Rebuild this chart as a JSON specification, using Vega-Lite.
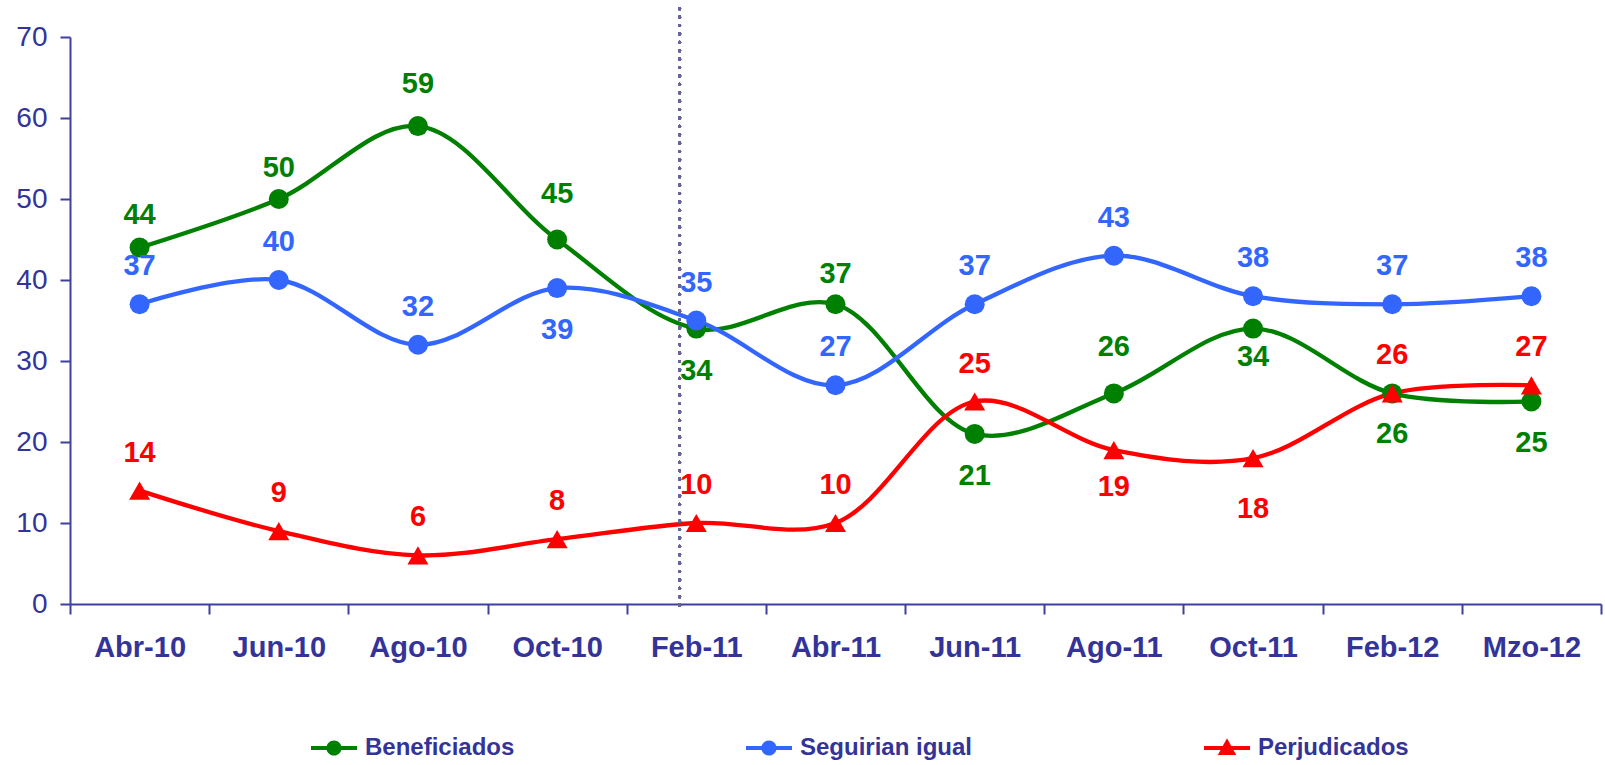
{
  "$schema": "https://vega.github.io/schema/vega-lite/v6.json",
  "width": 1531,
  "height": 567,
  "autosize": {"type": "none"},
  "padding": {"left": 70, "top": 37, "right": 4, "bottom": 161},
  "background": "white",
  "config": {
    "view": {"stroke": null},
    "font": "Liberation Sans"
  },
  "data": {
    "values": [
      {"mes": "Abr-10", "serie": "Beneficiados", "valor": 44},
      {"mes": "Jun-10", "serie": "Beneficiados", "valor": 50},
      {"mes": "Ago-10", "serie": "Beneficiados", "valor": 59},
      {"mes": "Oct-10", "serie": "Beneficiados", "valor": 45},
      {"mes": "Feb-11", "serie": "Beneficiados", "valor": 34},
      {"mes": "Abr-11", "serie": "Beneficiados", "valor": 37},
      {"mes": "Jun-11", "serie": "Beneficiados", "valor": 21},
      {"mes": "Ago-11", "serie": "Beneficiados", "valor": 26},
      {"mes": "Oct-11", "serie": "Beneficiados", "valor": 34},
      {"mes": "Feb-12", "serie": "Beneficiados", "valor": 26},
      {"mes": "Mzo-12", "serie": "Beneficiados", "valor": 25},
      {"mes": "Abr-10", "serie": "Seguirian igual", "valor": 37},
      {"mes": "Jun-10", "serie": "Seguirian igual", "valor": 40},
      {"mes": "Ago-10", "serie": "Seguirian igual", "valor": 32},
      {"mes": "Oct-10", "serie": "Seguirian igual", "valor": 39},
      {"mes": "Feb-11", "serie": "Seguirian igual", "valor": 35},
      {"mes": "Abr-11", "serie": "Seguirian igual", "valor": 27},
      {"mes": "Jun-11", "serie": "Seguirian igual", "valor": 37},
      {"mes": "Ago-11", "serie": "Seguirian igual", "valor": 43},
      {"mes": "Oct-11", "serie": "Seguirian igual", "valor": 38},
      {"mes": "Feb-12", "serie": "Seguirian igual", "valor": 37},
      {"mes": "Mzo-12", "serie": "Seguirian igual", "valor": 38},
      {"mes": "Abr-10", "serie": "Perjudicados", "valor": 14},
      {"mes": "Jun-10", "serie": "Perjudicados", "valor": 9},
      {"mes": "Ago-10", "serie": "Perjudicados", "valor": 6},
      {"mes": "Oct-10", "serie": "Perjudicados", "valor": 8},
      {"mes": "Feb-11", "serie": "Perjudicados", "valor": 10},
      {"mes": "Abr-11", "serie": "Perjudicados", "valor": 10},
      {"mes": "Jun-11", "serie": "Perjudicados", "valor": 25},
      {"mes": "Ago-11", "serie": "Perjudicados", "valor": 19},
      {"mes": "Oct-11", "serie": "Perjudicados", "valor": 18},
      {"mes": "Feb-12", "serie": "Perjudicados", "valor": 26},
      {"mes": "Mzo-12", "serie": "Perjudicados", "valor": 27}
    ]
  },
  "encoding": {
    "x": {
      "field": "mes",
      "type": "ordinal",
      "sort": null,
      "scale": {"type": "band", "paddingInner": 0, "paddingOuter": 0, "domain": ["Abr-10", "Jun-10", "Ago-10", "Oct-10", "Feb-11", "Abr-11", "Jun-11", "Ago-11", "Oct-11", "Feb-12", "Mzo-12"]},
      "axis": {
        "title": null,
        "tickBand": "extent",
        "domainColor": "#3F3F9F",
        "domainWidth": 2,
        "tickColor": "#3F3F9F",
        "tickWidth": 2,
        "tickSize": 10,
        "labelAngle": 0,
        "labelFont": "Liberation Sans",
        "labelFontSize": 29,
        "labelFontWeight": "bold",
        "labelColor": "#333399",
        "labelPadding": 19,
        "grid": false
      }
    },
    "y": {
      "field": "valor",
      "type": "quantitative",
      "scale": {"domain": [0, 70], "nice": false, "zero": true},
      "axis": {
        "title": null,
        "values": [0, 10, 20, 30, 40, 50, 60, 70],
        "domainColor": "#3F3F9F",
        "domainWidth": 2,
        "tickColor": "#3F3F9F",
        "tickWidth": 2,
        "tickSize": 10,
        "labelFont": "Liberation Sans",
        "labelFontSize": 28,
        "labelColor": "#333399",
        "labelPadding": 13,
        "grid": false
      }
    },
    "color": {
      "field": "serie",
      "type": "nominal",
      "sort": ["Beneficiados", "Seguirian igual", "Perjudicados"],
      "scale": {
        "domain": ["Beneficiados", "Seguirian igual", "Perjudicados"],
        "range": ["#008000", "#3366FF", "#FF0000"]
      },
      "legend": {
        "title": null,
        "orient": "none",
        "legendX": 241,
        "legendY": 688,
        "direction": "horizontal",
        "columns": 3,
        "columnPadding": 231,
        "padding": 0,
        "symbolSize": 2116,
        "symbolOpacity": 1,
        "symbolStrokeWidth": 0,
        "labelFont": "Liberation Sans",
        "labelFontSize": 24,
        "labelFontWeight": "bold",
        "labelColor": "#333399",
        "labelOffset": 8,
        "labelLimit": 400,
        "encode": {
          "symbols": {
            "update": {
              "shape": {"signal": "datum.value === 'Perjudicados' ? 'M-1,-0.09H1V0.09H-1Z M0,-0.42L0.4,0.3H-0.4Z' : 'M-1,-0.09H1V0.09H-1Z M-0.33,0A0.33,0.33,0,1,1,0.33,0A0.33,0.33,0,1,1,-0.33,0Z'"},
              "fill": {"signal": "scale('color', datum.value)"},
              "stroke": {"value": null},
              "opacity": {"value": 1}
            }
          }
        }
      }
    }
  },
  "layer": [
    {
      "mark": {"type": "line", "interpolate": "catmull-rom", "strokeWidth": 4.3}
    },
    {
      "transform": [{"filter": "datum.serie !== 'Perjudicados'"}],
      "mark": {"type": "point", "shape": "circle", "filled": true, "opacity": 1, "size": 400}
    },
    {
      "transform": [{"filter": "datum.serie === 'Perjudicados'"}],
      "mark": {"type": "point", "shape": "triangle-up", "filled": true, "opacity": 1, "size": 441}
    },
    {
      "mark": {"type": "rule", "color": "#666699", "strokeWidth": 3, "strokeDash": [0.1, 8.3], "strokeCap": "round"},
      "encoding": {
        "x": {"datum": "Feb-11", "bandPosition": 0.38},
        "y": {"datum": 73.5},
        "y2": {"datum": -1.1},
        "color": null
      }
    },
    {
      "mark": {
        "type": "text",
        "font": "Liberation Sans",
        "fontSize": 29,
        "fontWeight": "bold",
        "baseline": "middle",
        "dy": {"expr": "({'Beneficiados|Abr-10': -33, 'Beneficiados|Jun-10': -31, 'Beneficiados|Ago-10': -42, 'Beneficiados|Oct-10': -46, 'Beneficiados|Feb-11': 42, 'Beneficiados|Abr-11': -30, 'Beneficiados|Jun-11': 42, 'Beneficiados|Ago-11': -46, 'Beneficiados|Oct-11': 28, 'Beneficiados|Feb-12': 41, 'Beneficiados|Mzo-12': 41, 'Seguirian igual|Oct-10': 42, 'Perjudicados|Ago-11': 37, 'Perjudicados|Oct-11': 51})[datum.serie + '|' + datum.mes] || -38"}
      },
      "encoding": {"text": {"field": "valor", "type": "quantitative"}}
    }
  ]
}
